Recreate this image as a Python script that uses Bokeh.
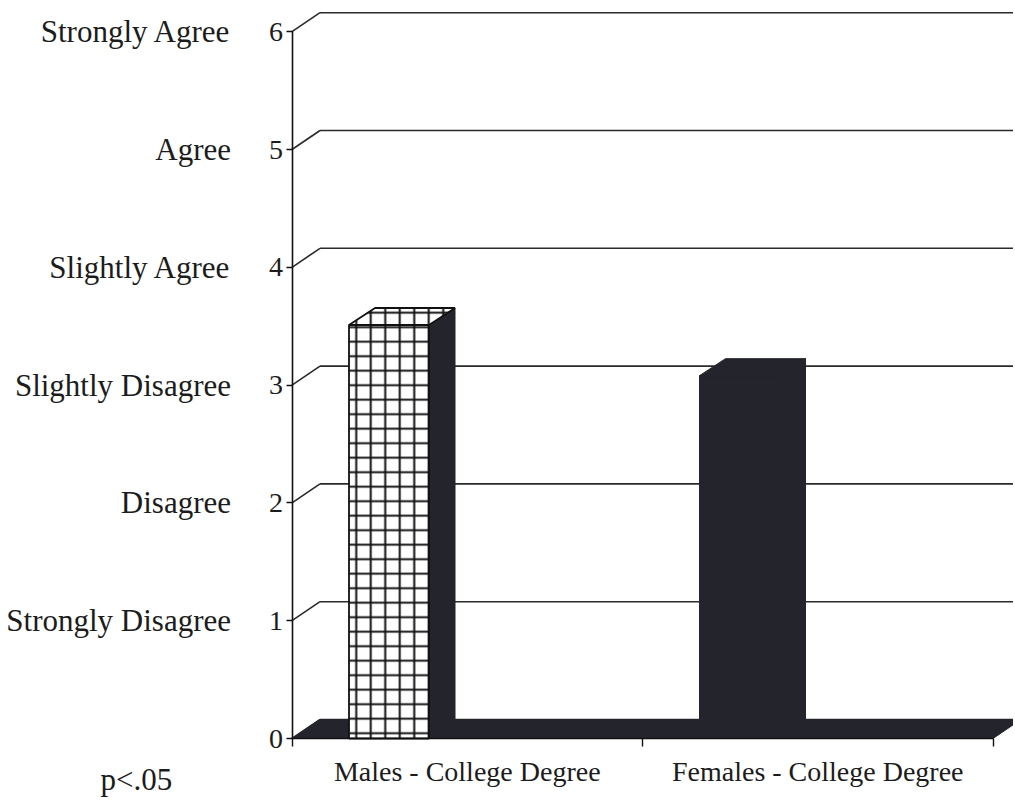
from bokeh.plotting import figure
from bokeh.models import Range1d, LinearAxis, FixedTicker, Label
from bokeh.embed import file_html
from bokeh.resources import INLINE

# ---- data ----
categories = ["Males - College Degree", "Females - College Degree"]
means = [3.51, 3.08]
scale_values = [0, 1, 2, 3, 4, 5, 6]
scale_labels = ["", "Strongly Disagree", "Disagree", "Slightly Disagree",
                "Slightly Agree", "Agree", "Strongly Agree"]
note = "p<.05"

# ---- geometry / style ----
PX_X = 350.5      # px per category
PX_Y = 117.8      # px per scale unit
W, H = 1013, 804
ORIGIN_X, ORIGIN_Y = 291.5, 738      # canvas px of the (0, 0) corner
GDX, GDY = 28 / PX_X, 19 / PX_Y      # wall depth
BDX, BDY = 26 / PX_X, 17 / PX_Y      # bar depth
BAR_L, BAR_R = 57 / PX_X, 137 / PX_X  # bar front face offsets within category
INK = "#23242c"
LINE = "#2a2a2a"
FONT = "Liberation Serif"
TXT = "#1c1c1c"

x_start, x_end = -ORIGIN_X / PX_X, (W - ORIGIN_X) / PX_X
y_start, y_end = -(H - ORIGIN_Y) / PX_Y, ORIGIN_Y / PX_Y

p = figure(width=W, height=H, output_backend="svg", toolbar_location=None,
           x_axis_type=None, y_axis_type=None,
           x_range=Range1d(x_start, x_end), y_range=Range1d(y_start, y_end),
           min_border_left=0, min_border_right=0,
           min_border_top=0, min_border_bottom=0)
p.outline_line_color = None
p.background_fill_color = "white"
p.border_fill_color = "white"

n_cat = len(categories)

# back wall gridlines and their diagonal connectors
gx0 = [GDX for _ in scale_values]
gx1 = [x_end + 0.2 for _ in scale_values]
gy = [v + GDY for v in scale_values]
p.segment(x0=gx0, y0=gy, x1=gx1, y1=gy, line_color=LINE, line_width=1.6)
p.segment(x0=[0 for _ in scale_values], y0=scale_values,
          x1=gx0, y1=gy, line_color=LINE, line_width=1.6)

# floor
p.patch(x=[0, n_cat, n_cat + GDX, GDX], y=[0, 0, GDY, GDY],
        fill_color=INK, line_color=INK, line_width=1)

# bars
lefts = [i + BAR_L for i in range(n_cat)]
rights = [i + BAR_R for i in range(n_cat)]
hatched = [0]

for i in range(n_cat):
    v = means[i]
    l, r = lefts[i], rights[i]
    top_x = [l, r, r + BDX, l + BDX]
    top_y = [v, v, v + BDY, v + BDY]
    side_x = [r, r + BDX, r + BDX, r]
    side_y = [0, BDY, v + BDY, v]
    if i in hatched:
        p.patch(x=side_x, y=side_y, fill_color=INK, line_color=INK, line_width=1)
        p.quad(left=[l], right=[r], bottom=[0], top=[v], fill_color="white",
               hatch_pattern="+", hatch_color="#111111", hatch_scale=14.5,
               hatch_weight=2, line_color="#111111", line_width=1.8)
        p.patch(x=top_x, y=top_y, fill_color="white",
                hatch_pattern="+", hatch_color="#111111", hatch_scale=14.5,
                hatch_weight=2, line_color="#111111", line_width=1.8)
    else:
        p.patch(x=side_x, y=side_y, fill_color=INK, line_color=INK, line_width=1)
        p.quad(left=[l], right=[r], bottom=[0], top=[v], fill_color=INK,
               line_color=INK, line_width=1)
        p.patch(x=top_x, y=top_y, fill_color=INK, line_color=INK, line_width=1)

# y axis with numbers
yax = LinearAxis(ticker=FixedTicker(ticks=scale_values, minor_ticks=[]), fixed_location=0)
yax.bounds = (0, 6)
yax.axis_line_color = "#111111"
yax.axis_line_width = 1.6
yax.major_tick_line_color = "#111111"
yax.major_tick_line_width = 1.4
yax.major_tick_out = 6
yax.major_tick_in = 0
yax.major_label_standoff = 3
yax.major_label_text_font = FONT
yax.major_label_text_font_size = "28px"
yax.major_label_text_color = TXT
p.add_layout(yax, "left")

# y axis with verbal anchors
tax = LinearAxis(ticker=FixedTicker(ticks=scale_values[1:], minor_ticks=[]), fixed_location=0)
tax.major_label_overrides = {v: lab for v, lab in zip(scale_values, scale_labels) if lab}
tax.axis_line_color = None
tax.major_tick_line_color = None
tax.minor_tick_line_color = None
tax.major_tick_out = 0
tax.major_tick_in = 0
tax.major_label_standoff = 61
tax.major_label_text_font = FONT
tax.major_label_text_font_size = "31px"
tax.major_label_text_color = TXT
p.add_layout(tax, "left")

# x axis: labels at category centres, ticks at category boundaries
centres = [i + 0.5 for i in range(n_cat)]
xax = LinearAxis(ticker=FixedTicker(ticks=centres, minor_ticks=list(range(n_cat + 1))),
                 fixed_location=0)
xax.bounds = (0, n_cat)
xax.major_label_overrides = {c: lab for c, lab in zip(centres, categories)}
xax.axis_line_color = "#111111"
xax.axis_line_width = 1.6
xax.major_tick_line_color = None
xax.major_tick_out = 0
xax.major_tick_in = 0
xax.minor_tick_line_color = "#111111"
xax.minor_tick_line_width = 1.4
xax.minor_tick_out = 8
xax.minor_tick_in = 0
xax.major_label_standoff = 9
xax.major_label_text_font = FONT
xax.major_label_text_font_size = "28px"
xax.major_label_text_color = TXT
p.add_layout(xax, "below")

p.add_layout(Label(x=(100 - ORIGIN_X) / PX_X, y=(ORIGIN_Y - 779) / PX_Y, text=note,
                   text_font=FONT, text_font_size="31px", text_color=TXT,
                   text_baseline="alphabetic", text_align="left"))

open("out.html", "w").write(file_html(p, INLINE))
